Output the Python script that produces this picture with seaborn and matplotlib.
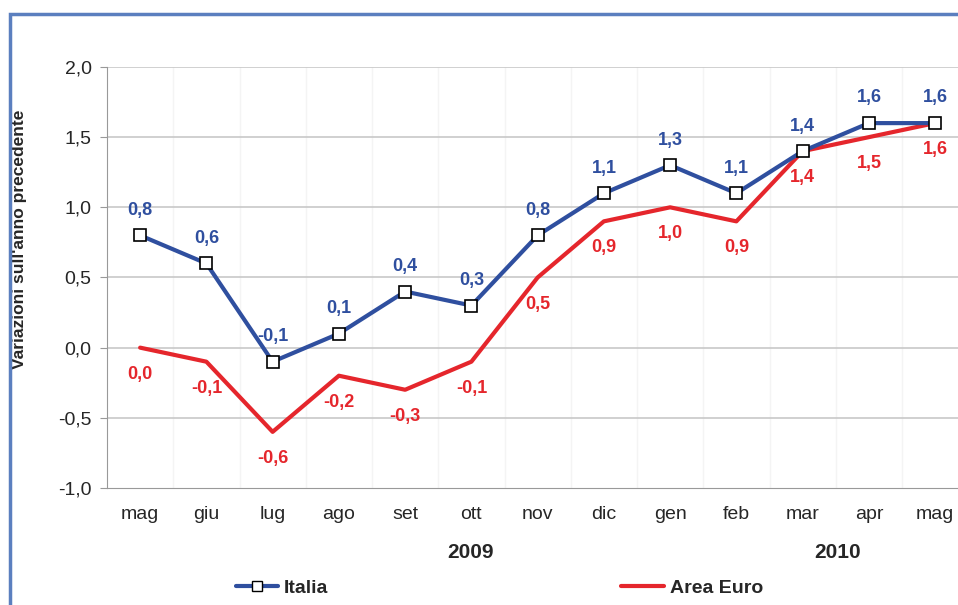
import pandas as pd
import matplotlib
matplotlib.use("Agg")
import matplotlib.pyplot as plt
import seaborn as sns
from matplotlib.patches import Rectangle
from matplotlib.lines import Line2D

months = ['mag', 'giu', 'lug', 'ago', 'set', 'ott', 'nov', 'dic', 'gen', 'feb', 'mar', 'apr', 'mag']
italia = [0.8, 0.6, -0.1, 0.1, 0.4, 0.3, 0.8, 1.1, 1.3, 1.1, 1.4, 1.6, 1.6]
euro = [0.0, -0.1, -0.6, -0.2, -0.3, -0.1, 0.5, 0.9, 1.0, 0.9, 1.4, 1.5, 1.6]
years = ['2009', '2010']

blue = '#2f4f9f'
red = '#e5262c'

sns.set_style("white")
plt.rcParams['font.family'] = ['Liberation Sans', 'DejaVu Sans']

df = pd.DataFrame({'pos': range(len(months)), 'Italia': italia, 'Area Euro': euro})

fig = plt.figure(figsize=(9.58, 6.05), dpi=100)
ax = fig.add_axes([0.1117, 0.1934, 0.899, 0.6959])

sns.lineplot(data=df, x='pos', y='Area Euro', color=red, linewidth=3, ax=ax, zorder=3)
sns.lineplot(data=df, x='pos', y='Italia', color=blue, linewidth=3, marker='s',
             markersize=8, markerfacecolor='white', markeredgecolor='black',
             markeredgewidth=1.2, ax=ax, zorder=4)

fmt = lambda v: f"{v:.1f}".replace('.', ',')
for i, (a, b) in enumerate(zip(italia, euro)):
    ax.annotate(fmt(a), (i, a), xytext=(0, 12), textcoords='offset points',
                ha='center', va='bottom', color=blue, fontsize=13, fontweight='bold')
    ax.annotate(fmt(b), (i, b), xytext=(0, -13), textcoords='offset points',
                ha='center', va='top', color=red, fontsize=13, fontweight='bold')

ax.set_xlim(-0.5, len(months) - 0.5)
ax.set_ylim(-1.0, 2.0)
ax.set_yticks([-1.0, -0.5, 0.0, 0.5, 1.0, 1.5, 2.0])
ax.set_yticklabels([fmt(v) for v in ax.get_yticks()], fontsize=14)
ax.set_xticks(range(len(months)))
ax.set_xticklabels(months, fontsize=14)
ax.tick_params(axis='x', length=0, pad=13)
ax.tick_params(axis='y', length=5, color='#999999', left=True, pad=6)
ax.set_xlabel('')
ax.set_ylabel("Variazioni sull'anno precedente", fontsize=12.5, fontweight='bold')
ax.yaxis.set_label_coords(-0.093, 0.59)

for y in [-0.5, 0.0, 0.5, 1.0, 1.5, 2.0]:
    ax.axhline(y, color='#c8c8c8', linewidth=1.2, zorder=1)
for x in range(len(months)):
    ax.axvline(x + 0.5, color='#f4f4f4', linewidth=1, zorder=0)

for s in ['top', 'right']:
    ax.spines[s].set_visible(False)
ax.spines['left'].set_color('#999999')
ax.spines['bottom'].set_color('#999999')

fig.text(470 / 958, 1 - 553 / 605, years[0], fontsize=15, fontweight='bold', ha='center', va='center')
fig.text(838 / 958, 1 - 553 / 605, years[1], fontsize=15, fontweight='bold', ha='center', va='center')

h1 = Line2D([], [], color=blue, linewidth=3, marker='s', markersize=7,
            markerfacecolor='white', markeredgecolor='black')
h2 = Line2D([], [], color=red, linewidth=3)
fig.legend([h1], ['Italia'], loc='center', bbox_to_anchor=(282 / 958, 1 - 588 / 605),
           frameon=False, prop={'weight': 'bold', 'size': 14}, handlelength=2.2, handletextpad=0.3)
fig.legend([h2], ['Area Euro'], loc='center', bbox_to_anchor=(692 / 958, 1 - 588 / 605),
           frameon=False, prop={'weight': 'bold', 'size': 14}, handlelength=2.2, handletextpad=0.3)

fig.patches.append(Rectangle((10 / 958, -0.1), 1.2, 1 - 14 / 605 + 0.1, transform=fig.transFigure,
                             fill=False, edgecolor='#5b7fbf', linewidth=2.5, zorder=0))

fig.savefig('out.png', dpi=100)
